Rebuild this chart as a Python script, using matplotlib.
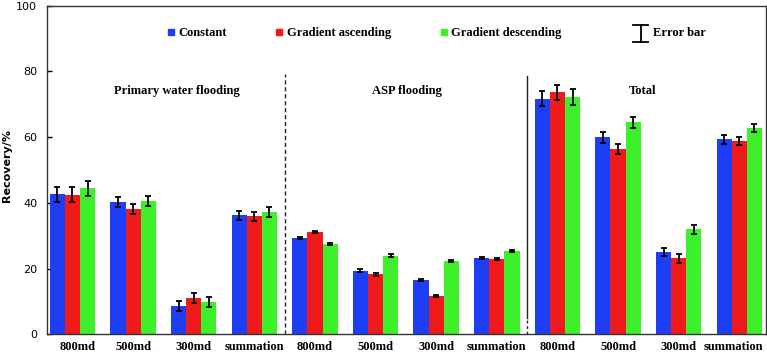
import matplotlib
matplotlib.use("Agg")
import matplotlib.pyplot as plt
import matplotlib.transforms as mtransforms
import numpy as np
from matplotlib.lines import Line2D

categories = ["800md", "500md", "300md", "summation"] * 3
series_names = ["Constant", "Gradient ascending", "Gradient descending"]
constant = [42.6, 40.3, 8.6, 36.2, 29.3, 19.4, 16.4, 23.2, 71.7, 59.9, 25.1, 59.3]
ascending = [42.5, 38.1, 11.1, 35.9, 31.1, 18.2, 11.7, 22.9, 73.6, 56.4, 23.1, 58.8]
descending = [44.4, 40.6, 9.7, 37.2, 27.5, 23.9, 22.4, 25.3, 72.2, 64.5, 31.9, 62.7]
err_constant = [2.3, 1.6, 1.5, 1.4, 0.4, 0.4, 0.3, 0.3, 2.3, 1.6, 1.3, 1.3]
err_ascending = [2.3, 1.6, 1.5, 1.4, 0.4, 0.4, 0.3, 0.3, 2.3, 1.6, 1.3, 1.3]
err_descending = [2.3, 1.6, 1.5, 1.4, 0.4, 0.4, 0.3, 0.3, 2.3, 1.6, 1.3, 1.3]
section_titles = ["Primary water flooding", "ASP flooding", "Total"]
yticks = [0, 20, 40, 60, 80, 100]

colors = ["#1e3ef5", "#f01a1a", "#3ef02a"]

fig = plt.figure(figsize=(7.67, 3.54), dpi=100)
ax = fig.add_axes([47/767, (354-334.3)/354, 719/767, 328.7/354])

x = np.arange(len(categories))
w = 0.25
serif = ["Liberation Serif", "DejaVu Serif"]
for i, (vals, errs) in enumerate(zip([constant, ascending, descending],
                                     [err_constant, err_ascending, err_descending])):
    ax.bar(x + (i - 1) * w, vals, width=w, color=colors[i], edgecolor="none",
           label=series_names[i], zorder=2)
    ax.errorbar(x + (i - 1) * w, vals, yerr=errs, fmt="none", ecolor="black",
                elinewidth=1.3, capsize=2.5, capthick=1.3, zorder=3)

ax.set_xlim(-0.42, 11.44)
ax.set_ylim(0, 100)
ax.set_yticks(yticks)
ax.tick_params(axis="y", direction="in", length=3.5, pad=7, labelsize=8, width=1)
ax.set_xticks(x)
ax.set_xticklabels(categories, fontfamily=serif, fontweight="bold", fontsize=9)
ax.tick_params(axis="x", length=0, pad=5)
labels = ax.get_xticklabels()
labels[0].set_transform(labels[0].get_transform() +
                        mtransforms.ScaledTranslation(5/100, 0, fig.dpi_scale_trans))
labels[-1].set_transform(labels[-1].get_transform() +
                         mtransforms.ScaledTranslation(-6/100, 0, fig.dpi_scale_trans))
ax.set_ylabel("Recovery/%", fontsize=8, fontweight="bold")
ax.yaxis.set_label_coords(-0.048, 0.515)
for s in ax.spines.values():
    s.set_color("#333333")
    s.set_linewidth(1)

# dividers
ax.plot([3.5, 3.5], [0, 79.2], color="#222222", lw=1, ls=(0, (3, 2)), zorder=1)
ax.plot([7.5, 7.5], [5, 78.5], color="#222222", lw=1, zorder=1)
ax.plot([7.5, 7.5], [0, 5], color="#222222", lw=1, ls=(0, (2, 2)), zorder=1)

# section titles
for xt, yt, t in zip([1.72, 5.52, 9.41], [74, 74, 74], section_titles):
    ax.text(xt, yt, t, ha="center", va="center", fontfamily=serif,
            fontweight="bold", fontsize=9)

handles = [Line2D([], [], marker="s", ls="none", color=c, markersize=5) for c in colors]
leg = ax.legend(handles, series_names, loc="center left",
                bbox_to_anchor=(0.167, 0.917), ncol=3, frameon=False,
                handlelength=0.6, handletextpad=0.3, columnspacing=3.9,
                borderpad=0, borderaxespad=0,
                prop={"family": serif, "weight": "bold", "size": 9})

# error bar key
xe = (640.7 - 47) / 719
y0 = (334.3 - 41.7) / 328.7
y1 = (334.3 - 25) / 328.7
cw = 7.5 / 719
kw = dict(transform=ax.transAxes, color="black", lw=1.3, clip_on=False)
ax.plot([xe, xe], [y0, y1], **kw)
ax.plot([xe - cw, xe + cw], [y0, y0], **kw)
ax.plot([xe - cw, xe + cw], [y1, y1], **kw)
ax.text((653 - 47) / 719, 0.917, "Error bar", transform=ax.transAxes,
        ha="left", va="center", fontfamily=serif, fontweight="bold", fontsize=9)

fig.savefig("out.png", dpi=100)
